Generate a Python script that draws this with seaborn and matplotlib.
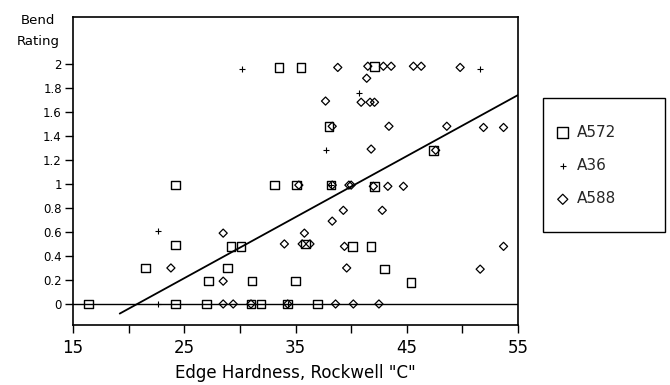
import numpy as np
import pandas as pd
import matplotlib
matplotlib.use("Agg")
import matplotlib.pyplot as plt
import seaborn as sns
from matplotlib.patches import Rectangle

# ---- data ----
a572_x = [16.4, 21.5, 24.2, 24.2, 24.2, 27.0, 27.2, 28.9, 29.2, 30.1, 31.0, 31.9,
          31.1, 33.5, 35.5, 33.1, 35.1, 38.2, 42.1, 38.0, 47.4, 35.9, 40.1, 41.8,
          43.0, 35.0, 45.4, 34.3, 37.0, 42.1]
a572_y = [0, 0.3, 0.99, 0.49, 0, 0, 0.19, 0.3, 0.48, 0.48, 0, 0,
          0.19, 1.97, 1.97, 0.99, 0.99, 0.99, 0.98, 1.48, 1.28, 0.5, 0.48, 0.48,
          0.29, 0.19, 0.18, 0, 0, 1.98]

a36_x = [22.6, 30.2, 51.6, 40.7, 37.7, 34.3, 38.2, 22.6]
a36_y = [0, 1.96, 1.96, 1.76, 1.28, 0, 0.99, 0.61]

a588_x = [38.8, 41.5, 42.9, 43.6, 45.6, 46.3, 49.8,
          41.4,
          37.7, 40.9, 41.7, 42.1,
          38.3, 43.4, 48.6, 51.9, 53.7,
          41.8, 47.6,
          35.3, 38.3, 39.8, 40.0, 42.0, 43.3, 44.7,
          39.3, 42.8,
          38.3,
          28.5, 35.8,
          34.0, 35.6, 36.3, 39.4, 53.7,
          23.8, 39.6, 51.6,
          28.5,
          28.5, 29.4, 31.0, 34.3, 38.6, 40.2, 42.5]
a588_y = [1.97, 1.98, 1.98, 1.98, 1.98, 1.98, 1.97,
          1.88,
          1.69, 1.68, 1.68, 1.68,
          1.48, 1.48, 1.48, 1.47, 1.47,
          1.29, 1.28,
          0.99, 0.99, 0.99, 0.99, 0.98, 0.98, 0.98,
          0.78, 0.78,
          0.69,
          0.59, 0.59,
          0.5, 0.5, 0.5, 0.48, 0.48,
          0.3, 0.3, 0.29,
          0.19,
          0, 0, 0, 0, 0, 0, 0]

fit_x = [19.2, 55.0]
fit_y = [-0.08, 1.74]

x_ticks = [15, 25, 35, 45, 55]
x_minor = [20, 30, 40, 50]
y_ticks = [0, 0.2, 0.4, 0.6, 0.8, 1.0, 1.2, 1.4, 1.6, 1.8, 2.0]
y_labels = ["0", "0.2", "0.4", "0.6", "0.8", "1", "1.2", "1.4", "1.6", "1.8", "2"]
series = ["A572", "A36", "A588"]

df572 = pd.DataFrame({"x": a572_x, "y": a572_y})
df36 = pd.DataFrame({"x": a36_x, "y": a36_y})
df588 = pd.DataFrame({"x": a588_x, "y": a588_y})
dffit = pd.DataFrame({"x": fit_x, "y": fit_y})

sns.set_style("white")
plt.rcParams["font.family"] = ["DejaVu Sans"]

fig = plt.figure(figsize=(6.7, 3.85), dpi=100)
ax = fig.add_axes([73/670, 1-325/385, (518-73)/670, (325-17)/385])

ax.axhline(0, color="black", lw=1.0, zorder=1)
sns.lineplot(data=dffit, x="x", y="y", ax=ax, color="black", lw=1.3, zorder=2)

sns.scatterplot(data=df572, x="x", y="y", ax=ax, marker="s", s=38,
                facecolor="none", edgecolor="black", linewidth=1.0,
                label=series[0], zorder=3)
sns.scatterplot(data=df36, x="x", y="y", ax=ax, marker="+", s=14,
                color="black", linewidth=0.8, label=series[1], zorder=3)
sns.scatterplot(data=df588, x="x", y="y", ax=ax, marker="D", s=17,
                facecolor="none", edgecolor="black", linewidth=0.9,
                label=series[2], zorder=3)

ax.set_xlim(15, 55)
ax.set_ylim(-0.175, 2.39)
ax.set_xticks(x_ticks)
ax.set_xticklabels([str(t) for t in x_ticks], fontsize=12)
ax.set_xticks(x_minor, minor=True)
ax.set_yticks(y_ticks)
ax.set_yticklabels(y_labels, fontsize=8.5)
ax.tick_params(axis="both", which="both", direction="out", length=6, width=1.0,
               color="black", labelcolor="black")
ax.tick_params(axis="x", which="both", bottom=True, pad=4)
ax.tick_params(axis="y", which="both", left=True, pad=2)
for sp in ax.spines.values():
    sp.set_color("black")
    sp.set_linewidth(1.2)

ax.set_xlabel('Edge Hardness, Rockwell "C"', fontsize=12, labelpad=5, color="black")
ax.set_ylabel("")
fig.text(38/670, 1-31/385, "Bend\nRating", ha="center", va="center",
         fontsize=9.5, linespacing=1.8, color="black")

# legend box
fig.patches.append(Rectangle((543/670, 1-232/385), 122/670, 134/385,
                             transform=fig.transFigure, fill=False,
                             edgecolor="black", lw=1.0))
ax.get_legend().remove()
handles, labels = ax.get_legend_handles_labels()
fig.legend(handles, labels, loc="upper left",
           bbox_to_anchor=(549/670, 1-117/385), bbox_transform=fig.transFigure,
           frameon=False, fontsize=11, handlelength=0.8, handletextpad=0.5,
           labelspacing=1.2, borderpad=0, markerscale=1.25)

fig.savefig("out.png", dpi=100)
